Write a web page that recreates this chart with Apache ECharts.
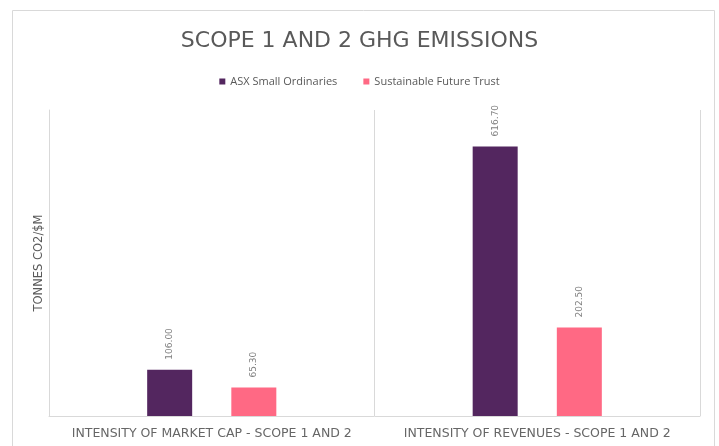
<!DOCTYPE html>
<html><head><meta charset="utf-8">
<script src="https://cdn.jsdelivr.net/npm/echarts@6/dist/echarts.min.js"></script>
<style>html,body{margin:0;padding:0;background:#fff}#c{width:719px;height:446px}</style>
</head><body><div id="c"></div>
<script>
const categories = ['INTENSITY OF MARKET CAP - SCOPE 1 AND 2', 'INTENSITY OF REVENUES - SCOPE 1 AND 2'];
const seriesNames = ['ASX Small Ordinaries', 'Sustainable Future Trust'];
const asxValues = [106.00, 616.70];
const sftValues = [65.30, 202.50];
const yMax = 700;

const chart = echarts.init(document.getElementById('c'));
const labelCfg = {
  show: true, position: 'top', rotate: 90, distance: 10, align: 'left', verticalAlign: 'middle',
  fontFamily: 'DejaVu Sans', fontSize: 9, color: '#7f7f7f',
  formatter: p => p.value.toFixed(2)
};
chart.setOption({
  animation: false,
  textStyle: { fontFamily: 'DejaVu Sans' },
  graphic: [{ type: 'rect', shape: { x: 12.5, y: 10.5, width: 702, height: 450 },
    style: { fill: 'none', stroke: '#d9d9d9', lineWidth: 1 }, silent: true }],
  title: { text: 'SCOPE 1 AND 2 GHG EMISSIONS', left: 'center', top: 25,
    textStyle: { fontFamily: 'DejaVu Sans', fontSize: 22, fontWeight: 'normal', color: '#595959' } },
  legend: { top: 71, left: 'center', itemWidth: 6, itemHeight: 6, itemGap: 26,
    icon: 'rect', textStyle: { fontFamily: 'Open Sans', fontSize: 11, color: '#595959' },
    data: seriesNames },
  grid: { left: 49, right: 19, top: 110, bottom: 30 },
  xAxis: { type: 'category', data: categories,
    axisLine: { lineStyle: { color: '#d9d9d9' } }, axisTick: { show: false },
    splitLine: { show: true, interval: 0, lineStyle: { color: '#d9d9d9' } },
    axisLabel: { interval: 0, fontFamily: 'DejaVu Sans', fontSize: 12.5, color: '#666666', margin: 11 } },
  yAxis: { type: 'value', min: 0, max: yMax, interval: 100,
    name: 'TONNES CO2/$M', nameLocation: 'middle', nameGap: 4, nameRotate: 90,
    nameTextStyle: { fontFamily: 'DejaVu Sans', fontSize: 11.5, color: '#595959', verticalAlign: 'bottom' },
    axisLine: { show: true, lineStyle: { color: '#d9d9d9' } }, axisTick: { show: false },
    axisLabel: { show: false }, splitLine: { show: false } },
  series: [
    { name: seriesNames[0], type: 'bar', data: asxValues, barWidth: 45, barGap: '87%',
      itemStyle: { color: '#53265f' }, label: labelCfg },
    { name: seriesNames[1], type: 'bar', data: sftValues, barWidth: 45,
      itemStyle: { color: '#ff6984' }, label: labelCfg }
  ]
});
</script></body></html>
